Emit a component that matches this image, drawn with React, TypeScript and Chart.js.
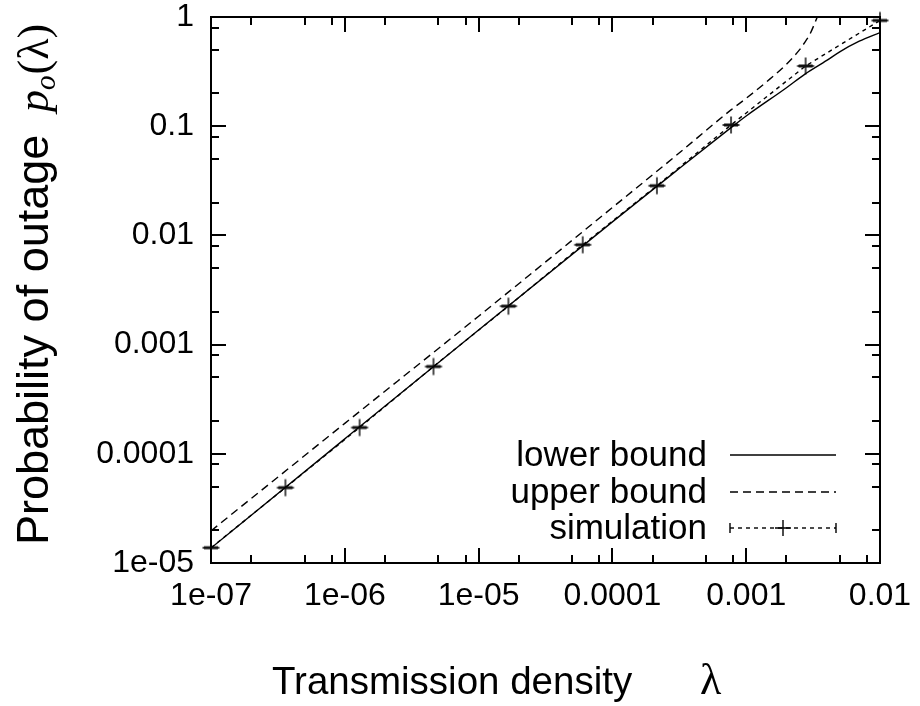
import React, { useEffect, useRef } from "react";
import { Chart, registerables } from "chart.js";

Chart.register(...registerables);

// ---- data ----
const simLambda = [1e-7, 3.6e-7, 1.29e-6, 4.6e-6, 1.67e-5, 6.0e-5, 2.15e-4, 7.7e-4, 2.78e-3, 1.0e-2];
const simOutage = [1.38e-5, 4.9e-5, 1.74e-4, 6.3e-4, 2.25e-3, 8.2e-3, 0.0285, 0.1026, 0.356, 0.93];

const lowerLambda = [1e-7, 1e-6, 1e-5, 1e-4, 3e-4, 7.7e-4, 1e-3, 2e-3, 2.75e-3, 4e-3, 5e-3, 7e-3, 1e-2];
const lowerOutage = [1.37e-5, 1.37e-4, 1.36e-3, 0.0133, 0.039, 0.097, 0.124, 0.225, 0.3, 0.4, 0.48, 0.6, 0.72];

const upperLambda = [1e-7, 1e-6, 1e-5, 1e-4, 3e-4, 7.7e-4, 1e-3, 1.5e-3, 2e-3, 2.5e-3, 2.75e-3, 3e-3, 3.4e-3, 4e-3];
const upperOutage = [1.97e-5, 1.9e-4, 1.82e-3, 0.018, 0.054, 0.141, 0.18, 0.27, 0.37, 0.5, 0.59, 0.7, 1.0, 1.6];

const seriesLabels = ["lower bound", "upper bound", "simulation"];

const xMajorTicks = [1e-7, 1e-6, 1e-5, 1e-4, 1e-3, 1e-2];
const xTickLabels = ["1e-07", "1e-06", "1e-05", "0.0001", "0.001", "0.01"];
const yMajorTicks = [1e-5, 1e-4, 1e-3, 1e-2, 0.1, 1];
const yTickLabels = ["1e-05", "0.0001", "0.001", "0.01", "0.1", "1"];
const minorMultipliers = [2, 5, 8];

const xTitle = "Transmission density";
const yTitle = "Probability of outage";

const SANS = '"Liberation Sans", Arial, Helvetica, sans-serif';
const SERIF = '"Liberation Serif", "Times New Roman", serif';

function toPoints(xs: number[], ys: number[]) {
  return xs.map((x, i) => ({ x, y: ys[i] }));
}

function buildTicks(majors: number[], min: number, max: number) {
  const out: { value: number; major: boolean }[] = [];
  majors.forEach((m, i) => {
    out.push({ value: m, major: true });
    if (i < majors.length - 1) {
      minorMultipliers.forEach((k) => {
        const v = m * k;
        if (v > min && v < max) out.push({ value: v, major: false });
      });
    }
  });
  return out;
}

function labelFor(majors: number[], labels: string[], value: number) {
  const i = majors.findIndex((m) => Math.abs(Math.log10(m) - Math.log10(value)) < 1e-6);
  return i >= 0 ? labels[i] : "";
}

function makeSimMarker() {
  const c = document.createElement("canvas");
  c.width = 22;
  c.height = 22;
  const g = c.getContext("2d")!;
  g.strokeStyle = "#000";
  g.lineWidth = 1.4;
  g.beginPath();
  g.moveTo(11, 2.5);
  g.lineTo(11, 19.5);
  g.moveTo(2.5, 11);
  g.lineTo(19.5, 11);
  g.stroke();
  g.fillStyle = "#111";
  g.fillRect(4, 9.5, 14, 3);
  return c;
}

const framePlugin = {
  id: "gnuframe",
  afterDatasetsDraw(chart: any) {
    const { ctx, chartArea: a, scales } = chart;
    const xs = scales.x;
    const ys = scales.y;
    ctx.save();
    ctx.strokeStyle = "#000";
    ctx.lineWidth = 2;
    ctx.beginPath();
    xs.ticks.forEach((t: any) => {
      const px = Math.round(xs.getPixelForValue(t.value));
      const len = t.major ? 15 : 8;
      ctx.moveTo(px, a.bottom);
      ctx.lineTo(px, a.bottom - len);
      ctx.moveTo(px, a.top);
      ctx.lineTo(px, a.top + len);
    });
    ys.ticks.forEach((t: any) => {
      const py = Math.round(ys.getPixelForValue(t.value));
      const len = t.major ? 15 : 8;
      ctx.moveTo(a.left, py);
      ctx.lineTo(a.left + len, py);
      ctx.moveTo(a.right, py);
      ctx.lineTo(a.right - len, py);
    });
    ctx.stroke();
    ctx.strokeRect(a.left, a.top, a.right - a.left, a.bottom - a.top);
    ctx.restore();
  },
  afterDraw(chart: any) {
    const { ctx } = chart;
    const ds = chart.data.datasets;
    ctx.save();
    ctx.fillStyle = "#000";
    ctx.strokeStyle = "#000";
    // legend
    const textRight = 707;
    const x0 = 730;
    const x1 = 836;
    const rows = [455, 492, 528];
    ctx.font = "35px " + SANS;
    ctx.textAlign = "right";
    ctx.textBaseline = "middle";
    ds.forEach((d: any, i: number) => {
      const y = rows[i];
      ctx.fillText(d.label, textRight, y + 1);
      ctx.lineWidth = d.borderWidth;
      ctx.setLineDash(d.borderDash || []);
      ctx.beginPath();
      ctx.moveTo(x0, y);
      ctx.lineTo(x1, y);
      ctx.stroke();
      ctx.setLineDash([]);
      if (i === 2) {
        ctx.lineWidth = 1.4;
        ctx.beginPath();
        ctx.moveTo(x0, y - 5);
        ctx.lineTo(x0, y + 5);
        ctx.moveTo(x1, y - 5);
        ctx.lineTo(x1, y + 5);
        const cx = (x0 + x1) / 2;
        ctx.moveTo(cx - 8, y);
        ctx.lineTo(cx + 8, y);
        ctx.moveTo(cx, y - 8);
        ctx.lineTo(cx, y + 8);
        ctx.stroke();
      }
    });
    // x title
    ctx.textAlign = "left";
    ctx.textBaseline = "alphabetic";
    ctx.font = "38.5px " + SANS;
    ctx.fillText(xTitle, 272, 694);
    ctx.font = "44px " + SERIF;
    ctx.fillText("\u03bb", 700, 694);
    // y title
    ctx.translate(48, 545);
    ctx.rotate(-Math.PI / 2);
    ctx.font = "45px " + SANS;
    ctx.fillText(yTitle, 0, 0);
    let px = 433;
    ctx.font = "italic 44px " + SERIF;
    ctx.fillText("p", px, 0);
    px += ctx.measureText("p").width;
    ctx.font = "italic 29px " + SERIF;
    ctx.fillText("o", px, 7);
    px += ctx.measureText("o").width + 1;
    ctx.font = "44px " + SERIF;
    ctx.fillText("(\u03bb)", px, 0);
    ctx.restore();
  },
};

export default function App() {
  const ref = useRef<HTMLCanvasElement | null>(null);
  useEffect(() => {
    document.body.style.margin = "0";
    const canvas = ref.current!;
    const marker = makeSimMarker();
    const chart = new Chart(canvas, {
      type: "line",
      data: {
        datasets: [
          {
            label: seriesLabels[0],
            data: toPoints(lowerLambda, lowerOutage),
            borderColor: "#000",
            borderWidth: 1.4,
            pointRadius: 0,
            cubicInterpolationMode: "monotone",
          },
          {
            label: seriesLabels[1],
            data: toPoints(upperLambda, upperOutage),
            borderColor: "#000",
            borderWidth: 1.4,
            borderDash: [8, 5],
            pointRadius: 0,
            cubicInterpolationMode: "monotone",
          },
          {
            label: seriesLabels[2],
            data: toPoints(simLambda, simOutage),
            borderColor: "#000",
            borderWidth: 1.4,
            borderDash: [4, 4],
            pointStyle: marker as any,
            pointRadius: 9,
            clip: false as any,
          },
        ],
      },
      options: {
        responsive: false,
        animation: false,
        parsing: true,
        layout: { padding: { top: 17, right: 40, left: 0, bottom: 0 } },
        plugins: { legend: { display: false }, tooltip: { enabled: false } },
        scales: {
          x: {
            type: "logarithmic",
            min: 1e-7,
            max: 1e-2,
            grid: { display: false, drawTicks: false },
            border: { display: false },
            afterBuildTicks: (s: any) => {
              s.ticks = buildTicks(xMajorTicks, s.min, s.max);
            },
            afterFit: (s: any) => {
              s.height = 143;
              s.paddingLeft = 0;
              s.paddingRight = 0;
            },
            ticks: {
              autoSkip: false,
              maxRotation: 0,
              minRotation: 0,
              padding: 14,
              color: "#000",
              font: { family: SANS, size: 32 },
              callback: (v: any) => labelFor(xMajorTicks, xTickLabels, Number(v)),
            },
          },
          y: {
            type: "logarithmic",
            min: 1e-5,
            max: 1,
            grid: { display: false, drawTicks: false },
            border: { display: false },
            afterBuildTicks: (s: any) => {
              s.ticks = buildTicks(yMajorTicks, s.min, s.max);
            },
            afterFit: (s: any) => {
              s.width = 211;
              s.paddingTop = 0;
              s.paddingBottom = 0;
            },
            ticks: {
              autoSkip: false,
              padding: 17,
              color: "#000",
              font: { family: SANS, size: 32 },
              callback: (v: any) => labelFor(yMajorTicks, yTickLabels, Number(v)),
            },
          },
        },
      },
      plugins: [framePlugin],
    });
    return () => chart.destroy();
  }, []);
  return (
    <div style={{ position: "absolute", left: 0, top: 0, width: 920, height: 706, background: "#fff" }}>
      <canvas ref={ref} width={920} height={706} style={{ display: "block" }} />
    </div>
  );
}
